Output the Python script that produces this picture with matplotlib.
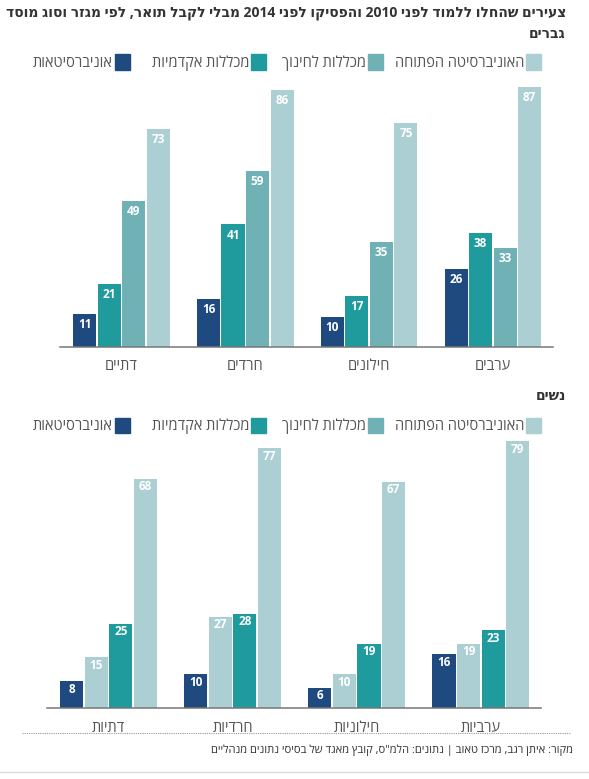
import re

import matplotlib.pyplot as plt
from matplotlib.patches import Rectangle
from matplotlib.lines import Line2D
import numpy as np

plt.rcParams['font.family'] = ['Open Sans', 'DejaVu Sans']


# matplotlib has no bidi support: flip Hebrew text, keep number runs readable
def rtl(s):
    return re.sub(r'\d+', lambda m: m.group(0)[::-1], s[::-1])


title = 'צעירים שהחלו ללמוד לפני 2010 והפסיקו לפני 2014 מבלי לקבל תואר, לפי מגזר וסוג מוסד'
source = 'מקור: איתן רגב, מרכז טאוב | נתונים: הלמ"ס, קובץ מאגד של בסיסי נתונים מנהליים'

legend_labels = ['אוניברסיטאות', 'מכללות אקדמיות', 'מכללות לחינוך', 'האוניברסיטה הפתוחה']

# men, groups left to right as drawn
men_groups = ['דתיים', 'חרדים', 'חילונים', 'ערבים']
men_univ = [11, 16, 10, 26]
men_acad = [21, 41, 17, 38]
men_edu = [49, 59, 35, 33]
men_open = [73, 86, 75, 87]

# women
women_groups = ['דתיות', 'חרדיות', 'חילוניות', 'ערביות']
women_univ = [8, 10, 6, 16]
women_edu = [15, 27, 10, 19]
women_acad = [25, 28, 19, 23]
women_open = [68, 77, 67, 79]

DARK = '#1f4a7f'
TEAL = '#1f9a9d'
MID = '#70b1b5'
LIGHT = '#abcfd3'
GRAY = '#555555'

fig = plt.figure(figsize=(5.89, 7.79), dpi=100)
W, H = 589, 779


def px_axes(left, right, base, top):
    return fig.add_axes([left / W, 1 - base / H, (right - left) / W, (base - top) / H])


def draw_panel(ax, groups, series, colors, ymax, label_off):
    x = np.arange(len(groups))
    step, width = 0.198, 0.186
    for k, (vals, col) in enumerate(zip(series, colors)):
        bars = ax.bar(x + (k - 1.5) * step, vals, width, color=col)
        for b, v in zip(bars, vals):
            ax.annotate(str(v), (b.get_x() + b.get_width() / 2, v),
                        xytext=(0, -label_off), textcoords='offset points',
                        ha='center', va='center', color='white',
                        fontsize=8.5, fontweight='bold')
    ax.set_xlim(-0.496, 3.485)
    ax.set_ylim(0, ymax)
    ax.set_xticks(x, [rtl(g) for g in groups])
    ax.tick_params(axis='x', length=0, pad=9, labelsize=10.5, labelcolor=GRAY)
    ax.set_yticks([])
    for side in ['top', 'right', 'left']:
        ax.spines[side].set_visible(False)
    ax.spines['bottom'].set_color('#777777')
    ax.spines['bottom'].set_linewidth(1.1)


def draw_legend(ypix):
    # square on the right of each label (RTL)
    for lab, col, sx in zip(legend_labels, [DARK, TEAL, MID, LIGHT], [115, 251, 368, 526]):
        fig.add_artist(Rectangle((sx / W, 1 - (ypix + 7.5) / H), 15 / W, 15 / H,
                                 transform=fig.transFigure, color=col))
        fig.text((sx - 2) / W, 1 - (ypix + 1.5) / H, rtl(lab), ha='right', va='center',
                 fontsize=10.5, color=GRAY)


ax1 = px_axes(60, 553, 347, 84)
draw_panel(ax1, men_groups, [men_univ, men_acad, men_edu, men_open],
           [DARK, TEAL, MID, LIGHT], 88, 7.6)

ax2 = px_axes(47, 541, 708, 438)
draw_panel(ax2, women_groups, [women_univ, women_edu, women_acad, women_open],
           [DARK, LIGHT, TEAL, LIGHT], 80, 5.8)

draw_legend(62)
draw_legend(425)

fig.text(566 / W, 1 - 13 / H, rtl(title), ha='right', va='center',
         fontsize=10, fontweight='bold', color='#333333')
fig.text(566 / W, 1 - 34 / H, rtl('גברים'), ha='right', va='center',
         fontsize=10, fontweight='bold', color='#333333')
fig.text(566 / W, 1 - 396 / H, rtl('נשים'), ha='right', va='center',
         fontsize=10, fontweight='bold', color='#333333')

# dotted separator, source, bottom rule
fig.add_artist(Line2D([22 / W, 570 / W], [1 - 733 / H] * 2, color='#999999',
                      linestyle=(0, (1, 1)), linewidth=0.8))
fig.text(573 / W, 1 - 750 / H, rtl(source), ha='right', va='center',
         fontsize=8, color='#333333')
fig.add_artist(Line2D([0, 1], [1 - 772 / H] * 2, color='#dddddd', linewidth=1))

fig.savefig('out.png', dpi=100)
